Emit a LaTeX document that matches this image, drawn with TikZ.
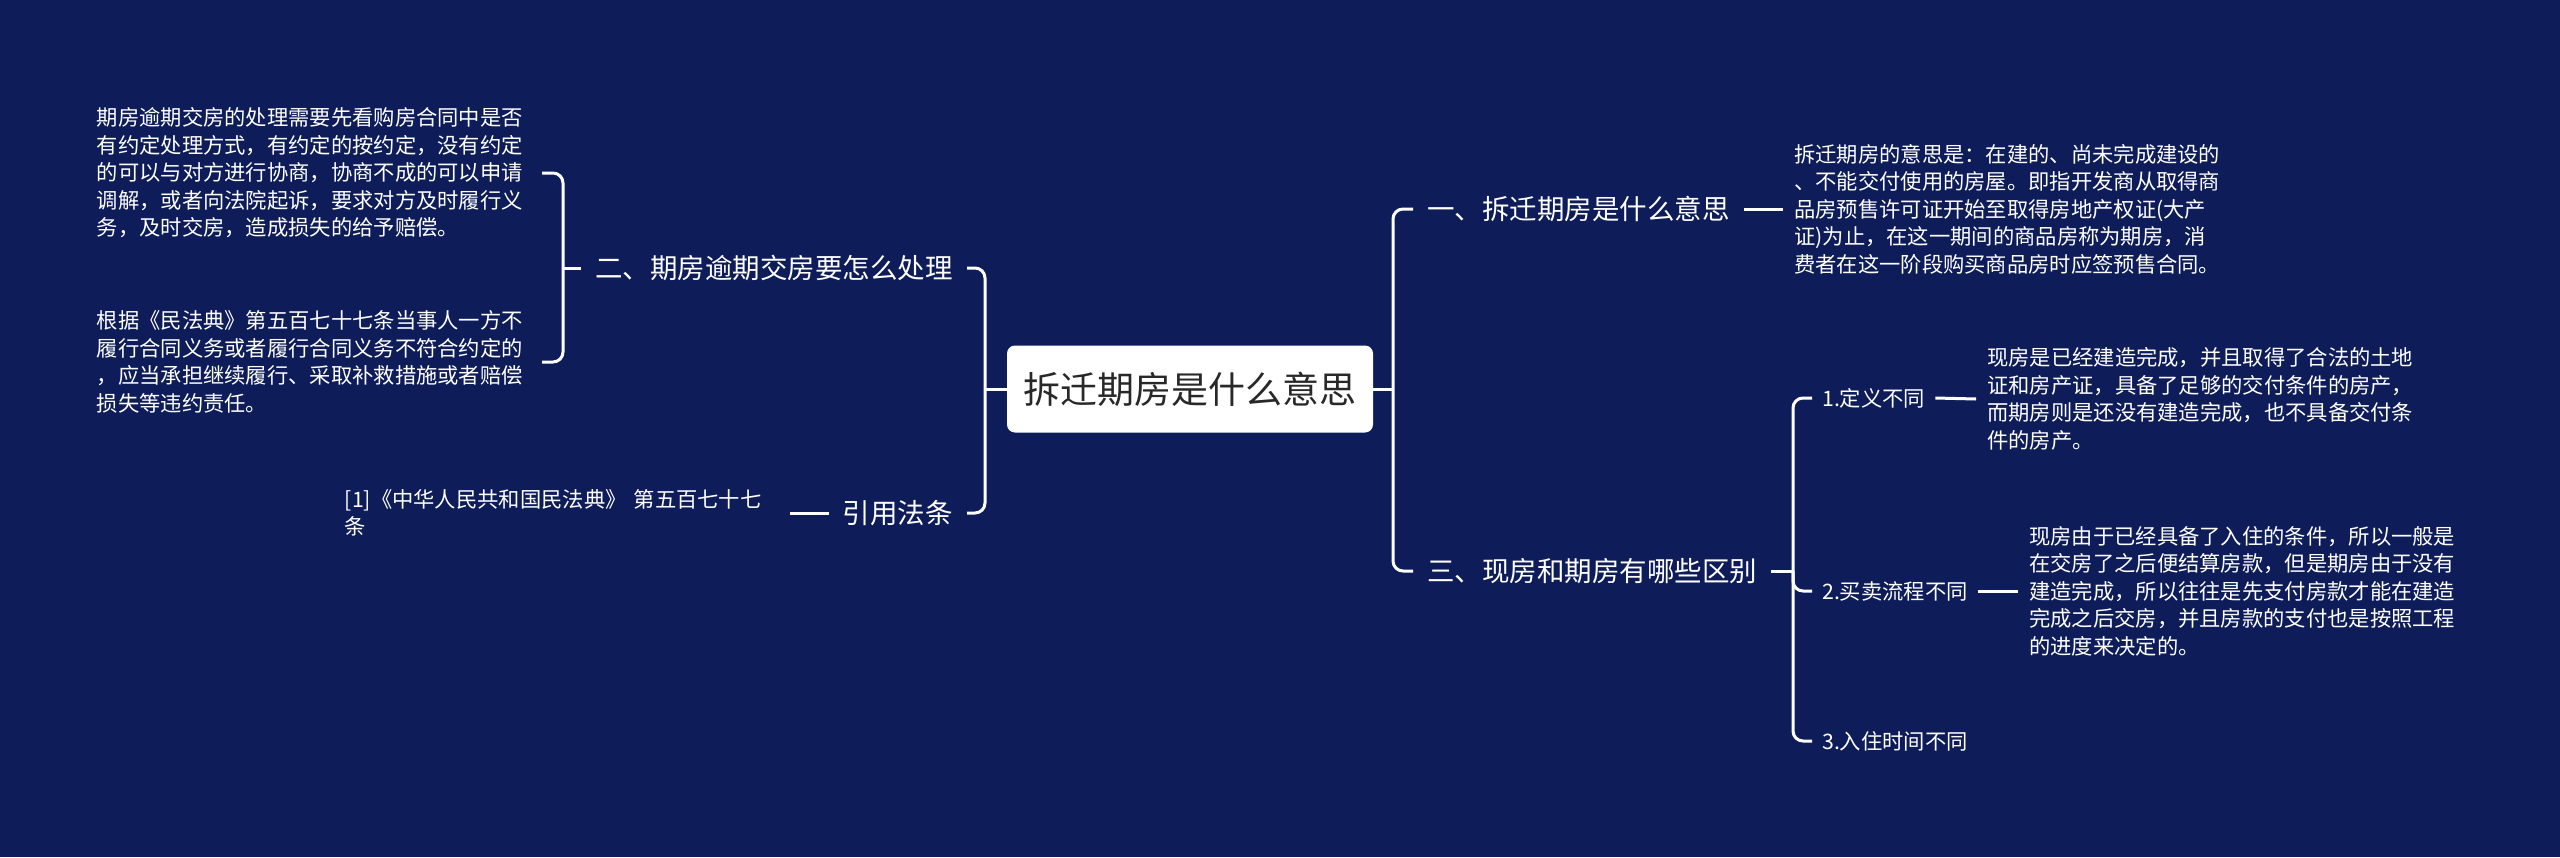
\documentclass[tikz,border=0pt]{standalone}
\usepackage{fontspec}
\setmainfont{Noto Sans CJK SC}
\definecolor{bg}{RGB}{14,29,89}
\definecolor{roottext}{RGB}{40,40,40}
\begin{document}
\begin{tikzpicture}[x=1pt,y=-1pt,
 conn/.style={draw=white,line width=3pt},
 br/.style={conn,rounded corners=10pt},
 root/.style={fill=white,rounded corners=8pt,minimum width=366pt,minimum height=87pt,inner sep=0pt,text=roottext,font=\fontsize{37pt}{44pt}\selectfont},
 lvtwo/.style={text=white,inner xsep=14pt,inner ysep=4pt,font=\fontsize{27.5pt}{33pt}\selectfont},
 lvthree/.style={text=white,inner xsep=10pt,inner ysep=4pt,font=\fontsize{21.3pt}{27.5pt}\selectfont},
 desc/.style={text=white,inner xsep=11pt,inner ysep=4pt,text width=434pt,align=left,font=\fontsize{21.3pt}{27.5pt}\selectfont},
]
\fill[bg] (0,0) rectangle (2560,857);
\useasboundingbox (0,0) rectangle (2560,857);

\node[root] (R) at (1190,389) {拆迁期房是什么意思};

\node[lvtwo,anchor=west] (A) at (1413,209) {一、拆迁期房是什么意思};
\node[lvtwo,anchor=east] (B) at (967,268) {二、期房逾期交房要怎么处理};
\node[lvtwo,anchor=east] (C) at (967,513) {引用法条};
\node[lvtwo,anchor=west] (D) at (1413,571) {三、现房和期房有哪些区别};

\node[desc,anchor=west] (A1) at (1783,209) {拆迁期房的意思是：在建的、尚未完成建设的\\、不能交付使用的房屋。即指开发商从取得商\\品房预售许可证开始至取得房地产权证(大产\\证)为止，在这一期间的商品房称为期房，消\\费者在这一阶段购买商品房时应签预售合同。};

\node[desc,anchor=east] (B1) at (542,173) {期房逾期交房的处理需要先看购房合同中是否\\有约定处理方式，有约定的按约定，没有约定\\的可以与对方进行协商，协商不成的可以申请\\调解，或者向法院起诉，要求对方及时履行义\\务，及时交房，造成损失的给予赔偿。};
\node[desc,anchor=east] (B2) at (542,362) {根据《民法典》第五百七十七条当事人一方不\\履行合同义务或者履行合同义务不符合约定的\\，应当承担继续履行、采取补救措施或者赔偿\\损失等违约责任。};

\node[desc,anchor=east] (C1) at (790,513) {[1]《中华人民共和国民法典》 第五百七十七\\条};

\node[lvthree,anchor=west] (D1) at (1812,398) {1.定义不同};
\node[lvthree,anchor=west] (D2) at (1812,591) {2.买卖流程不同};
\node[lvthree,anchor=west] (D3) at (1812,741) {3.入住时间不同};

\node[desc,anchor=west] (D1a) at (1976,399) {现房是已经建造完成，并且取得了合法的土地\\证和房产证，具备了足够的交付条件的房产，\\而期房则是还没有建造完成，也不具备交付条\\件的房产。};
\node[desc,anchor=west] (D2a) at (2018,591) {现房由于已经具备了入住的条件，所以一般是\\在交房了之后便结算房款，但是期房由于没有\\建造完成，所以往往是先支付房款才能在建造\\完成之后交房，并且房款的支付也是按照工程\\的进度来决定的。};

\coordinate (lb) at (985,389);
\coordinate (bb) at (563,268);
\coordinate (rb) at (1393,389);
\coordinate (db) at (1793,571);

\draw[conn] (R.west) -- (lb);
\draw[br] (lb) |- (B.east);
\draw[br] (lb) |- (C.east);
\draw[conn] (B.west) -- (bb);
\draw[br] (bb) |- (B1.east);
\draw[br] (bb) |- (B2.east);
\draw[conn] (C.west) -- (C1.east);

\draw[conn] (R.east) -- (rb);
\draw[br] (rb) |- (A.west);
\draw[br] (rb) |- (D.west);
\draw[conn] (A.east) -- (A1.west);
\draw[conn] (D.east) -- (db);
\draw[br] (db) |- (D1.west);
\draw[br] (db) |- (D2.west);
\draw[br] (db) |- (D3.west);
\draw[conn] (D1.east) -- (D1a.west);
\draw[conn] (D2.east) -- (D2a.west);
\end{tikzpicture}
\end{document}
